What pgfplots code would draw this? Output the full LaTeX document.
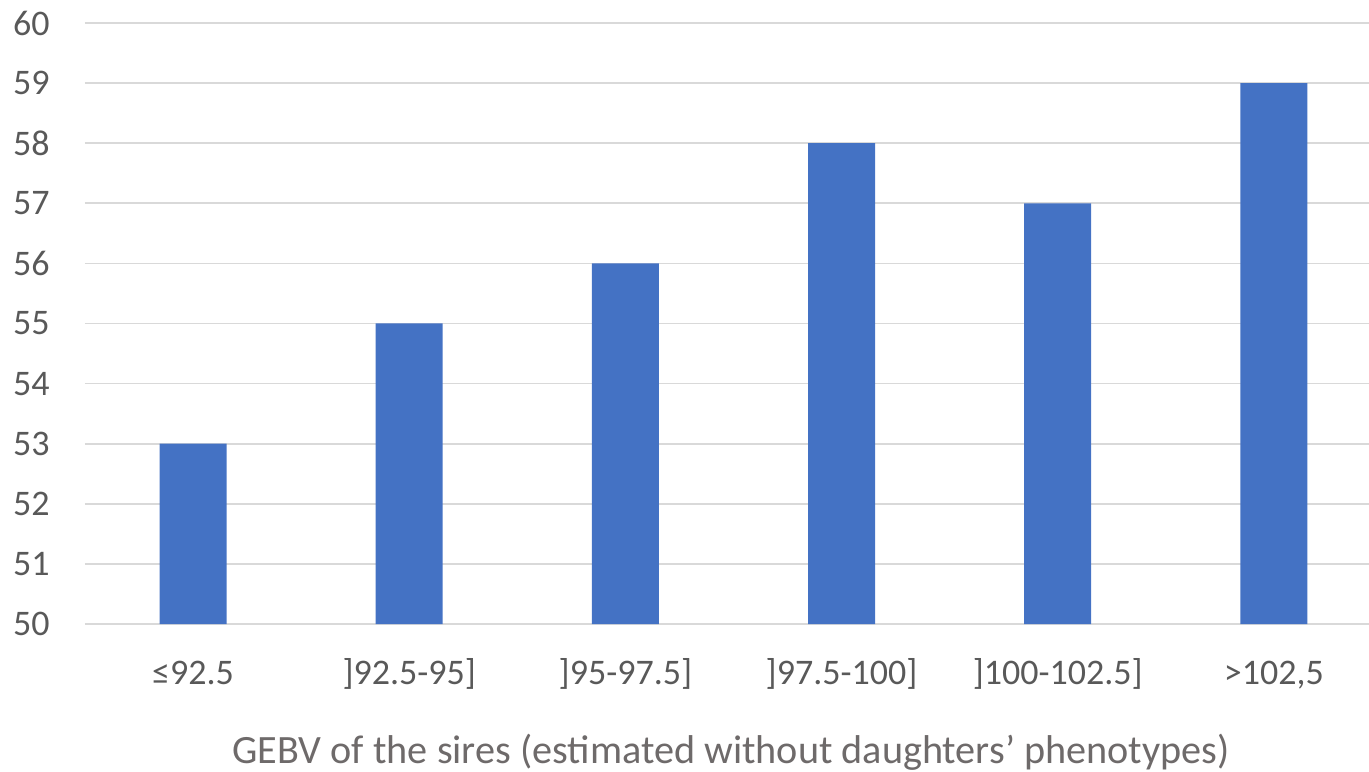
\documentclass[border=0pt]{standalone}
\usepackage{pgfplots}
\pgfplotsset{compat=1.18}
\usepackage{fontspec}
\setmainfont{Carlito}
\definecolor{barblue}{HTML}{4472C4}
\definecolor{txtgray}{HTML}{595959}
\definecolor{lblgray}{HTML}{6E6A6A}
\definecolor{gridgray}{HTML}{D9D9D9}
\begin{document}
\begin{tikzpicture}
\begin{axis}[
  at={(42.5pt,73.5pt)}, anchor=south west,
  scale only axis, width=642pt, height=300.5pt,
  xmin=-0.5, xmax=5.44, ymin=50, ymax=60,
  ytick={50,51,...,60},
  xtick={0,1,2,3,4,5},
  xticklabels={{≤92.5},{]92.5-95]},{]95-97.5]},{]97.5-100]},{]100-102.5]},{>102,5}},
  axis line style={draw=none},
  major tick length=0pt,
  ymajorgrids, grid style={gridgray, line width=0.8pt},
  /pgf/number format/assume math mode=true,
  tick label style={font=\fontsize{18}{21}\selectfont, text=txtgray},
  yticklabel style={anchor=east, inner sep=0pt, xshift=-17.5pt},
  xticklabel style={anchor=base, inner sep=0pt, yshift=-30pt},
  xlabel={GEBV of the sires (estimated without daughters’ phenotypes)},
  xlabel style={font=\fontsize{20.1}{24}\selectfont, text=lblgray, anchor=base, inner sep=0pt, at={(axis description cs:0.5,0)}, xshift=2pt, yshift=-69.5pt},
  clip=false,
]
\addplot[ybar, bar width=33.5pt, fill=barblue, draw=none] coordinates {
  (0,53) (1,55) (2,56) (3,58) (4,57) (5,59)
};
\end{axis}
\pgfresetboundingbox
\useasboundingbox (0,0) rectangle (684.5pt,385.5pt);
\end{tikzpicture}
\end{document}
